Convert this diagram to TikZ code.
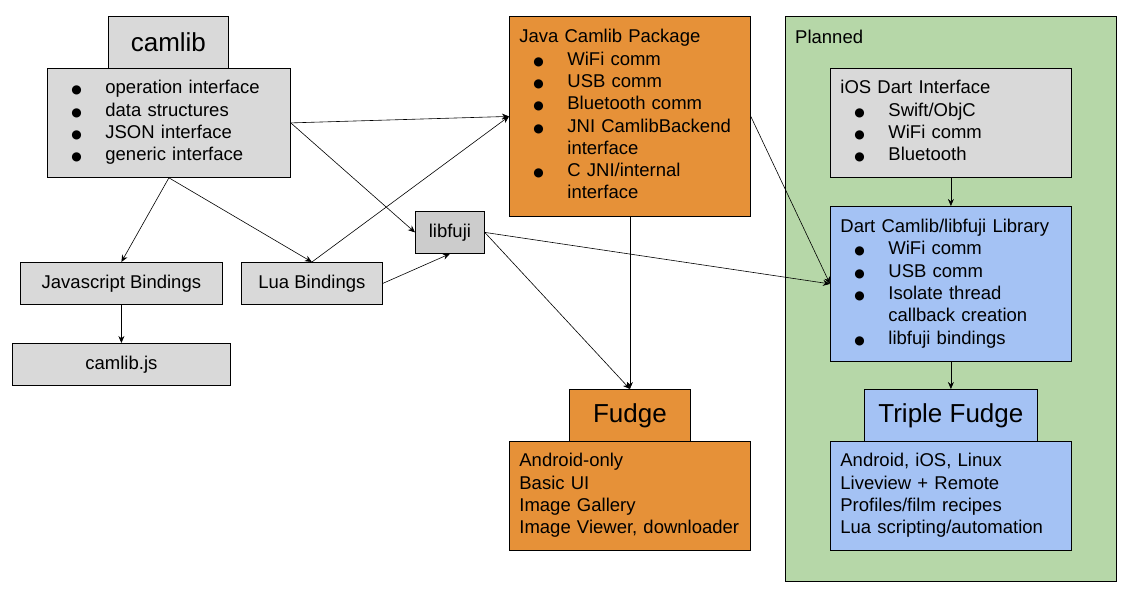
\documentclass[tikz,border=0pt]{standalone}
\usepackage{fontspec}
\setmainfont{Liberation Sans}
\newfontfamily\dotfont{DejaVu Sans}
\definecolor{boxgray}{RGB}{217, 217, 217}
\definecolor{darkboxgray}{RGB}{204, 204, 204}
\definecolor{fudgeorange}{RGB}{230, 145, 56}
\definecolor{plannedgreen}{RGB}{182, 215, 168}
\definecolor{dartblue}{RGB}{164, 194, 244}
\usetikzlibrary{arrows.meta}
\newcommand{\bodyfont}{\fontsize{18.5}{22.3}\selectfont}
\newcommand{\titlefont}{\fontsize{26}{30}\selectfont}
\newcommand{\blt}{{\dotfont\fontsize{12}{12}\selectfont ●}}
\newcommand{\dotitem}{\makebox[34pt][l]{\blt}}
\tikzset{
    box/.style={
        rectangle, anchor=north west,
        draw=black, fill=#1, text=black,
        font=\bodyfont, align=center, inner sep=0pt, line width=0.8pt
    },
    listbox/.style={
        box=#1, align=left, inner xsep=10pt
    },
    titlebox/.style={
        box=#1, font=\titlefont
    },
    arrow/.style={-{Stealth[length=7pt, width=6pt]}, line width=0.6pt},
    grouplabel/.style={anchor=base west, font=\bodyfont, inner sep=0pt}
}
\begin{document}
\begin{tikzpicture}[x=1pt, y=-1pt]
    \useasboundingbox (0,0) rectangle (1127,590);

    % planned area
    \node[box=plannedgreen, minimum width=331, minimum height=565] (planned) at (785,16) {};
    \node[grouplabel] (plannedlabel) at (795,43) {Planned};

    % camlib and its bindings
    \node[titlebox=boxgray, minimum width=120, minimum height=52] (camlibtitle) at (108,16) {camlib};
    \node[listbox=boxgray, text width=223, minimum height=109] (camlibbody) at (47,68) {%
        \begin{tabular}{@{\hspace{14pt}}l@{}l@{}}
        \dotitem & operation interface\\
        \dotitem & data structures\\
        \dotitem & JSON interface\\
        \dotitem & generic interface
        \end{tabular}};
    \node[box=boxgray, minimum width=202, minimum height=42] (jsbind) at (20,262) {Javascript Bindings};
    \node[box=boxgray, minimum width=141, minimum height=42] (luabind) at (241,262) {Lua Bindings};
    \node[box=boxgray, minimum width=218, minimum height=42] (camlibjs) at (12,343) {camlib.js};
    \node[box=darkboxgray, minimum width=69, minimum height=42] (libfuji) at (415,211) {libfuji};

    % java package and fudge
    \node[listbox=fudgeorange, text width=221, minimum height=200] (java) at (509,16) {%
        \begin{tabular}{@{\hspace{14pt}}l@{}l@{}}
        \multicolumn{2}{@{}l@{}}{Java Camlib Package}\\
        \dotitem & WiFi comm\\
        \dotitem & USB comm\\
        \dotitem & Bluetooth comm\\
        \dotitem & JNI CamlibBackend\\
                 & interface\\
        \dotitem & C JNI/internal\\
                 & interface
        \end{tabular}};
    \node[titlebox=fudgeorange, minimum width=121, minimum height=52] (fudgetitle) at (569,389) {Fudge};
    \node[listbox=fudgeorange, text width=221, minimum height=109] (fudgebody) at (509,441) {%
        \begin{tabular}{@{}l@{}}
        Android-only\\
        Basic UI\\
        Image Gallery\\
        Image Viewer, downloader
        \end{tabular}};

    % planned boxes
    \node[listbox=boxgray, text width=221, minimum height=109] (ios) at (830,68) {%
        \begin{tabular}{@{\hspace{14pt}}l@{}l@{}}
        \multicolumn{2}{@{}l@{}}{iOS Dart Interface}\\
        \dotitem & Swift/ObjC\\
        \dotitem & WiFi comm\\
        \dotitem & Bluetooth
        \end{tabular}};
    \node[listbox=dartblue, text width=221, minimum height=155] (dart) at (830,206) {%
        \begin{tabular}{@{\hspace{14pt}}l@{}l@{}}
        \multicolumn{2}{@{}l@{}}{Dart Camlib/libfuji Library}\\
        \dotitem & WiFi comm\\
        \dotitem & USB comm\\
        \dotitem & Isolate thread\\
                 & callback creation\\
        \dotitem & libfuji bindings
        \end{tabular}};
    \node[titlebox=dartblue, minimum width=173, minimum height=52] (tripletitle) at (864,389) {Triple Fudge};
    \node[listbox=dartblue, text width=221, minimum height=109] (triplebody) at (830,441) {%
        \begin{tabular}{@{}l@{}}
        Android, iOS, Linux\\
        Liveview + Remote\\
        Profiles/film recipes\\
        Lua scripting/automation
        \end{tabular}};

    % connectors
    \draw[arrow] (camlibbody.east) -- (java.west);
    \draw[arrow] (camlibbody.east) -- (libfuji.west);
    \draw[arrow] (camlibbody.south) -- (jsbind.north);
    \draw[arrow] (camlibbody.south) -- (luabind.north);
    \draw[arrow] (luabind.north) -- (java.west);
    \draw[arrow] (luabind.east) -- (libfuji.south);
    \draw[arrow] (jsbind.south) -- (camlibjs.north);
    \draw[arrow] (libfuji.east) -- (dart.west);
    \draw[arrow] (libfuji.east) -- (fudgetitle.north);
    \draw[arrow] (java.south) -- (fudgetitle.north);
    \draw[arrow] (java.east) -- (dart.west);
    \draw[arrow] (ios.south) -- (dart.north);
    \draw[arrow] (dart.south) -- (tripletitle.north);
\end{tikzpicture}
\end{document}
